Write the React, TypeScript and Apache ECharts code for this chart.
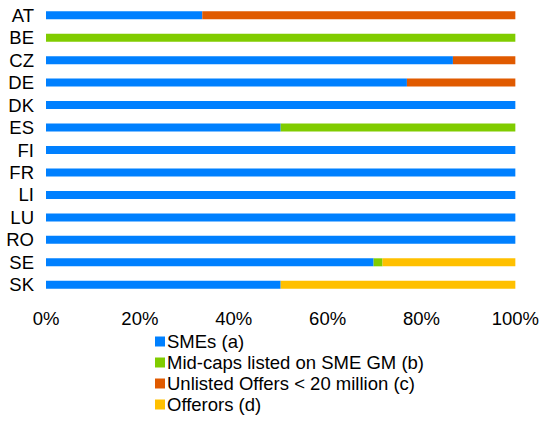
import React, { useEffect, useRef } from "react";
import * as echarts from "echarts";

const countries = ["AT", "BE", "CZ", "DE", "DK", "ES", "FI", "FR", "LI", "LU", "RO", "SE", "SK"];
const smes = [33.3, 0, 86.7, 76.9, 100, 50, 100, 100, 100, 100, 100, 69.8, 50];
const midCaps = [0, 100, 0, 0, 0, 50, 0, 0, 0, 0, 0, 1.9, 0];
const unlisted = [66.7, 0, 13.3, 23.1, 0, 0, 0, 0, 0, 0, 0, 0, 0];
const offerors = [0, 0, 0, 0, 0, 0, 0, 0, 0, 0, 0, 28.3, 50];
const seriesNames = ["SMEs (a)", "Mid-caps listed on SME GM (b)", "Unlisted Offers < 20 million (c)", "Offerors (d)"];
const xTicks = [0, 20, 40, 60, 80, 100];

const colors = ["#0080FF", "#80CC00", "#E05A00", "#FFC000"];
const font = "'Liberation Sans', Arial, sans-serif";
const fs = 18.5;

export default function App() {
  const ref = useRef<HTMLDivElement>(null);
  useEffect(() => {
    if (!ref.current) return;
    document.body.style.margin = "0";
    const chart = echarts.init(ref.current, undefined, { renderer: "svg" });
    const data = [smes, midCaps, unlisted, offerors];
    chart.setOption({
      animation: false,
      textStyle: { fontFamily: font },
      grid: { left: 46, right: 23, top: 4, height: 292 },
      xAxis: {
        type: "value",
        min: xTicks[0],
        max: xTicks[xTicks.length - 1],
        interval: 20,
        axisLine: { show: false },
        axisTick: { show: false },
        splitLine: { show: false },
        axisLabel: { formatter: "{value}%", color: "#000", fontSize: fs, fontFamily: font, margin: 13, showMaxLabel: true },
      },
      yAxis: {
        type: "category",
        data: countries,
        inverse: true,
        axisLine: { show: false },
        axisTick: { show: false },
        axisLabel: { color: "#000", fontSize: fs, fontFamily: font, margin: 12, interval: 0 },
      },
      legend: {
        orient: "vertical",
        left: 155,
        top: 332,
        itemWidth: 10,
        itemHeight: 10,
        itemGap: 2,
        icon: "rect",
        padding: 0,
        textStyle: { color: "#000", fontSize: fs, fontFamily: font, lineHeight: 18, padding: [0, 0, 0, -3] },
        data: seriesNames,
      },
      series: seriesNames.map((name, i) => ({
        name,
        type: "bar",
        stack: "total",
        barWidth: 8,
        itemStyle: { color: colors[i] },
        data: data[i],
      })),
    });
    return () => chart.dispose();
  }, []);
  return <div ref={ref} style={{ width: 542, height: 423 }} />;
}
